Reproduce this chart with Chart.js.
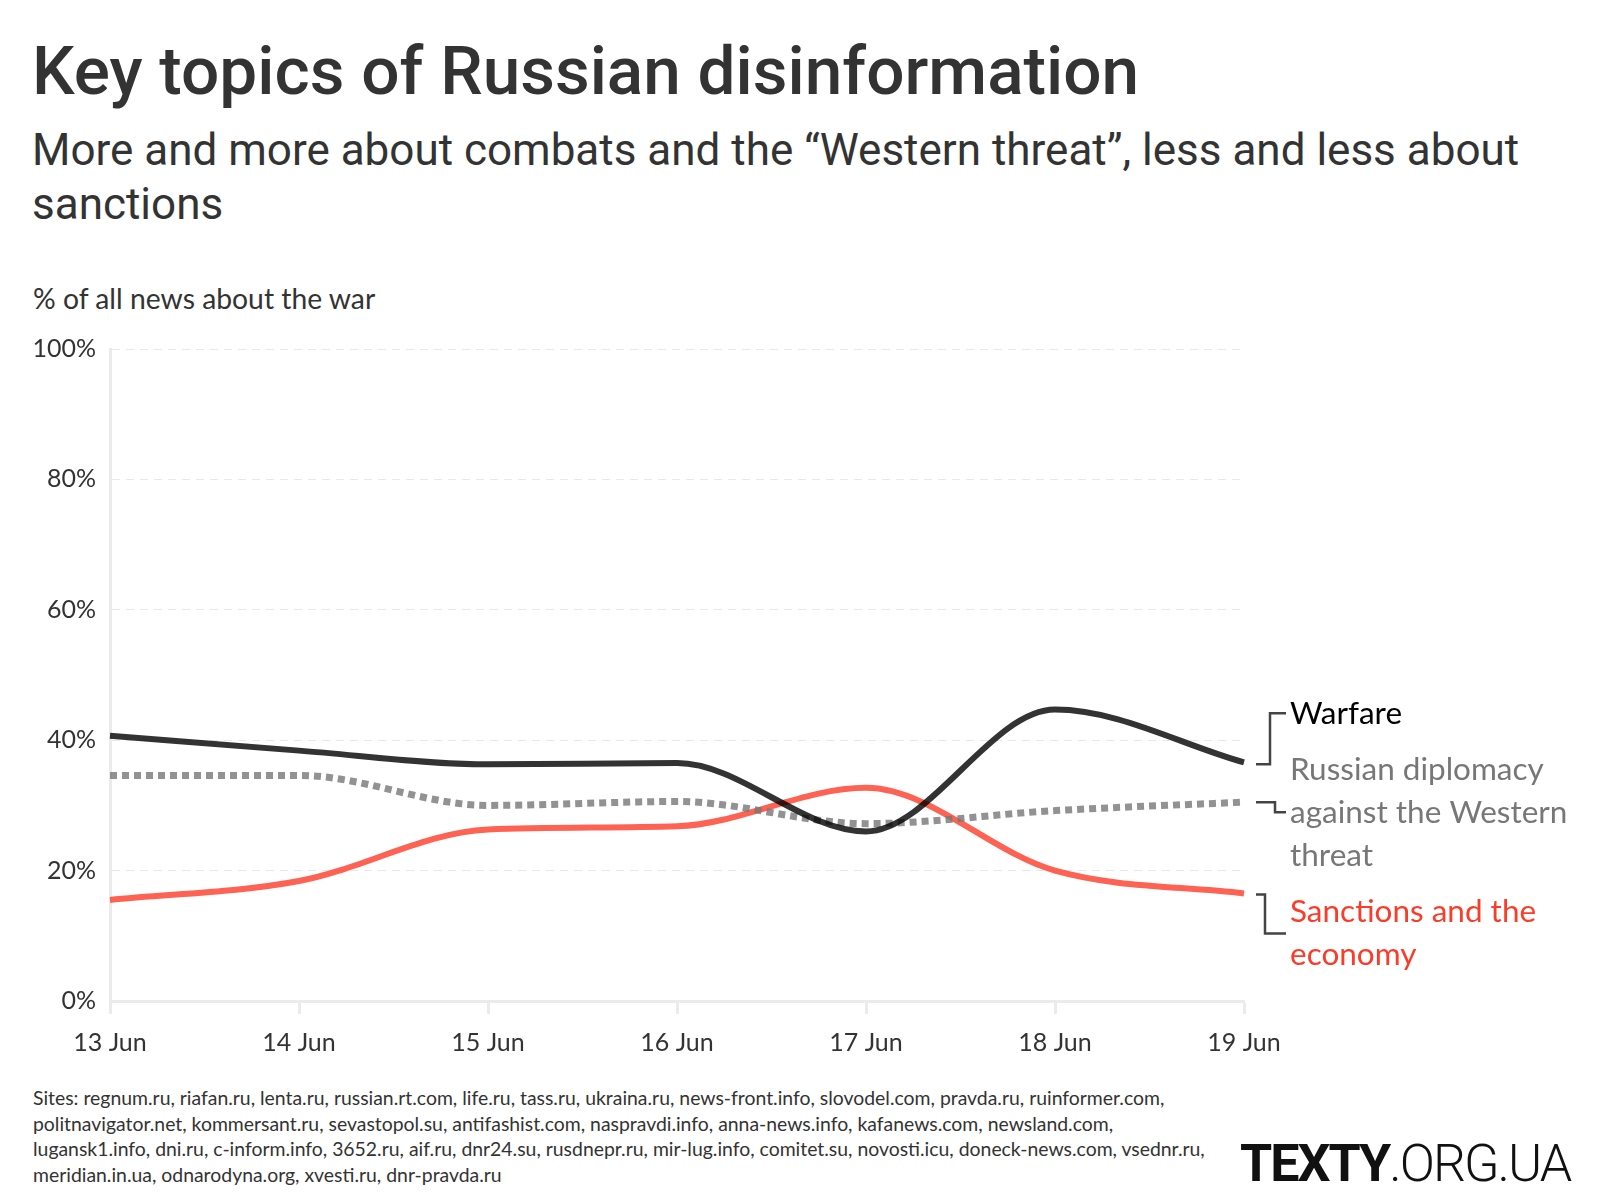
<!DOCTYPE html>
<html>
<head>
<meta charset="utf-8">
<script src="https://cdn.jsdelivr.net/npm/chart.js@4"></script>
<style>
  body { margin: 0; background: #fff; }
  #page { position: relative; width: 1600px; height: 1200px; overflow: hidden; color: #333; }
  .abs { position: absolute; white-space: nowrap; }
  #title { left: 32px; top: 31px; font: 500 67.5px Roboto, sans-serif; }
  #subtitle { left: 32px; top: 123px; font: 400 44px/54px Roboto, sans-serif; }
  #unit { left: 33px; top: 281px; font: 400 28.3px Lato, sans-serif; }
  #sites { left: 33px; top: 1085px; font: 400 19.4px/25.5px Lato, sans-serif; }
  #logo { left: 1240px; top: 1133px; font: 52px Roboto, sans-serif; letter-spacing: -2px; color: #111; }
  #logo b { font-weight: 700; }
  #logo span { font-weight: 300; }
  #chartBox { position: absolute; left: 0; top: 320px; width: 1600px; height: 751px; }
</style>
</head>
<body>
<div id="page">
  <div id="title" class="abs">Key topics of Russian disinformation</div>
  <div id="subtitle" class="abs">More and more about combats and the “Western threat”, less and less about<br>sanctions</div>
  <div id="unit" class="abs">% of all news about the war</div>
  <div id="chartBox"><canvas id="lineChart"></canvas></div>
  <div id="sites" class="abs">Sites: regnum.ru, riafan.ru, lenta.ru, russian.rt.com, life.ru, tass.ru, ukraina.ru, news-front.info, slovodel.com, pravda.ru, ruinformer.com,<br>politnavigator.net, kommersant.ru, sevastopol.su, antifashist.com, naspravdi.info, anna-news.info, kafanews.com, newsland.com,<br>lugansk1.info, dni.ru, c-inform.info, 3652.ru, aif.ru, dnr24.su, rusdnepr.ru, mir-lug.info, comitet.su, novosti.icu, doneck-news.com, vsednr.ru,<br>meridian.in.ua, odnarodyna.org, xvesti.ru, dnr-pravda.ru</div>
  <div id="logo" class="abs"><b>TEXTY</b><span>.ORG.UA</span></div>
</div>
<script>
// data
const days = ['13 Jun', '14 Jun', '15 Jun', '16 Jun', '17 Jun', '18 Jun', '19 Jun'];
const warfare = [40.7, 38.4, 36.3, 36.5, 26.0, 44.7, 36.6];
const diplomacy = [34.6, 34.6, 30.0, 30.6, 27.2, 29.2, 30.5];
const sanctions = [15.5, 18.4, 26.3, 26.8, 32.7, 20.0, 16.5];
const yTicks = [0, 20, 40, 60, 80, 100];

// labels on the right of the lines
const endLabels = [
    { lines: ['Warfare'], color: '#000', data: warfare, textTop: -38, bracket: 'up' },
    { lines: ['Russian diplomacy', 'against the Western', 'threat'], color: '#777', data: diplomacy, textTop: -22, bracket: 'step' },
    { lines: ['Sanctions and the', 'economy'], color: '#fc3b28', data: sanctions, textTop: 29, bracket: 'down' }
];

const endLabelsPlugin = {
    id: 'endLabels',
    afterDraw(chart) {
        const ctx = chart.ctx;
        const y = chart.scales.y;
        const right = chart.chartArea.right;
        ctx.save();
        ctx.font = '31.5px Lato';
        ctx.textBaseline = 'alphabetic';
        endLabels.forEach(l => {
            const py = y.getPixelForValue(l.data[l.data.length - 1]);
            const x0 = right + 12, x2 = right + 42;
            ctx.strokeStyle = '#444';
            ctx.lineWidth = 2.5;
            ctx.beginPath();
            if (l.bracket === 'up') {
                ctx.moveTo(x0, py + 2); ctx.lineTo(right + 26, py + 2);
                ctx.lineTo(right + 26, py - 49); ctx.lineTo(x2, py - 49);
            } else if (l.bracket === 'step') {
                ctx.moveTo(x0, py); ctx.lineTo(right + 31, py);
                ctx.lineTo(right + 31, py + 10); ctx.lineTo(x2, py + 10);
            } else {
                ctx.moveTo(x0, py + 1); ctx.lineTo(right + 21, py + 1);
                ctx.lineTo(right + 21, py + 40); ctx.lineTo(x2, py + 40);
            }
            ctx.stroke();
            ctx.fillStyle = l.color;
            l.lines.forEach((t, i) => ctx.fillText(t, right + 46, py + l.textTop + i * 43));
        });
        ctx.restore();
    }
};

document.fonts.ready.then(function() {
    new Chart(document.getElementById('lineChart').getContext('2d'), {
        type: 'line',
        data: {
            labels: days,
            datasets: [
                { label: 'Warfare', data: warfare, borderColor: 'rgba(0,0,0,0.8)', borderWidth: 6 },
                { label: 'Russian diplomacy against the Western threat', data: diplomacy, borderColor: 'rgba(119,119,119,0.8)', borderWidth: 7, borderDash: [7, 5] },
                { label: 'Sanctions and the economy', data: sanctions, borderColor: 'rgba(252,59,40,0.8)', borderWidth: 6 }
            ]
        },
        options: {
            responsive: true,
            maintainAspectRatio: false,
            animation: false,
            layout: { padding: { top: 28, right: 356, left: 0, bottom: 0 } },
            elements: {
                point: { radius: 0 },
                line: { cubicInterpolationMode: 'monotone', borderCapStyle: 'butt' }
            },
            plugins: { legend: { display: false }, tooltip: { enabled: false } },
            scales: {
                x: {
                    afterFit: s => { s.height = 70; },
                    grid: { drawOnChartArea: false, drawTicks: true, tickLength: 13, tickColor: '#ebebeb', tickWidth: 3 },
                    border: { color: '#ebebeb', width: 3 },
                    ticks: { color: '#333', font: { family: 'Lato', size: 25 }, padding: 14, maxRotation: 0 }
                },
                y: {
                    min: 0, max: 100,
                    afterFit: s => { s.width = 110; },
                    afterBuildTicks: s => { s.ticks = yTicks.map(v => ({ value: v })); },
                    grid: { color: '#e8e8e8', lineWidth: 1, drawTicks: false },
                    border: { color: '#ebebeb', width: 3, dash: [8, 6] },
                    ticks: { color: '#333', font: { family: 'Lato', size: 25 }, padding: 14, callback: v => v + '%' }
                }
            }
        },
        plugins: [endLabelsPlugin]
    });
});
</script>
</body>
</html>
